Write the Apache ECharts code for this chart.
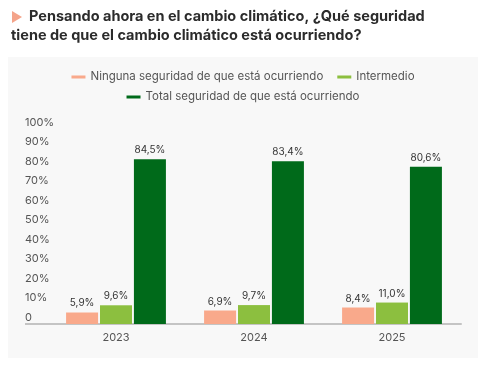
<!DOCTYPE html>
<html><head><meta charset="utf-8">
<script src="https://cdn.jsdelivr.net/npm/echarts@6/dist/echarts.min.js"></script>
<style>html,body{margin:0;padding:0;background:#fff}#c{width:486px;height:366px}</style>
</head><body><div id="c"></div>
<script>
const categories = ['2023', '2024', '2025'];
const seriesNames = ['Ninguna seguridad de que está ocurriendo', 'Intermedio', 'Total seguridad de que está ocurriendo'];
const ninguna = [5.9, 6.9, 8.4];
const intermedio = [9.6, 9.7, 11.0];
const total = [84.5, 83.4, 80.6];
const yTicks = [0, 10, 20, 30, 40, 50, 60, 70, 80, 90, 100];
const colors = ['#F9A98B', '#8CBF3F', '#006A1A'];
const font = 'Inter, "Noto Sans", sans-serif';

const chart = echarts.init(document.getElementById('c'), null, {renderer: 'canvas'});
const mk = (name, data, color) => ({
  name, type: 'bar', data, barWidth: 32, barGap: '6%',
  itemStyle: {color},
  label: {show: true, position: 'top', distance: 4, color: '#333', fontSize: 10, fontFamily: font,
    formatter: p => p.value.toFixed(1).replace('.', ',') + '%'}
});
const lineIcon = 'path://M0 0H14V3H0Z';
chart.setOption({
  backgroundColor: '#fff',
  graphic: [
    {type: 'rect', shape: {x: 8, y: 57, width: 470, height: 301}, style: {fill: '#f8f8f8'}, z: -10},
    {type: 'polygon', shape: {points: [[12, 11], [12, 23], [22, 17]]}, style: {fill: '#F4A48A'}},
    {type: 'text', left: 29, top: 9, style: {text: 'Pensando ahora en el cambio climático, ¿Qué seguridad', fill: '#2b2b2b', font: 'bold 14.5px ' + font}},
    {type: 'text', left: 11, top: 28, style: {text: 'tiene de que el cambio climático está ocurriendo?', fill: '#2b2b2b', font: 'bold 14.5px ' + font}},
    {type: 'line', shape: {x1: 25, y1: 324, x2: 48, y2: 324}, style: {stroke: '#c4c4c4', lineWidth: 2}}
  ],
  legend: [
    {data: seriesNames.slice(0, 2), top: 66, left: 'center', icon: lineIcon, itemWidth: 14, itemHeight: 3, itemGap: 14,
      textStyle: {color: '#555', fontSize: 11.5, fontFamily: font}},
    {data: seriesNames.slice(2), top: 86, left: 'center', icon: lineIcon, itemWidth: 14, itemHeight: 3,
      textStyle: {color: '#555', fontSize: 11.5, fontFamily: font}}
  ],
  grid: {left: 47, right: 25, top: 129, bottom: 42},
  xAxis: {type: 'category', data: categories,
    axisLine: {lineStyle: {color: '#c4c4c4', width: 2}}, axisTick: {show: false},
    axisLabel: {color: '#555', fontSize: 11, fontFamily: font, margin: 8}},
  yAxis: {type: 'value', min: 0, max: 100, interval: 10,
    splitLine: {show: false}, axisLine: {show: false}, axisTick: {show: false},
    axisLabel: {color: '#555', fontSize: 11, fontFamily: font, align: 'left', margin: 22, verticalAlign: 'bottom', padding: [0, 0, 1, 0],
      formatter: v => yTicks.includes(v) ? (v === 0 ? '0' : v + '%') : ''}},
  series: [mk(seriesNames[0], ninguna, colors[0]), mk(seriesNames[1], intermedio, colors[1]), mk(seriesNames[2], total, colors[2])]
});
</script></body></html>
